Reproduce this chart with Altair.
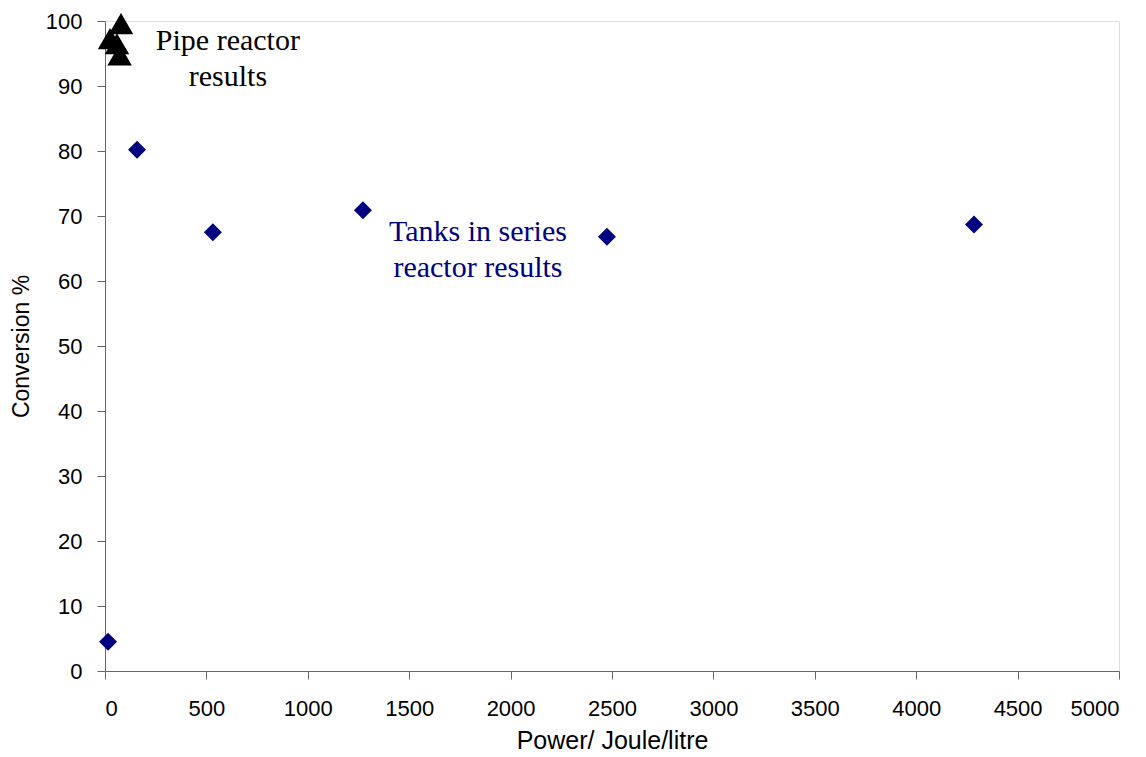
import altair as alt
import pandas as pd

# Tanks-in-series reactor results
tank_power = [15, 158, 532, 1272, 2475, 4285]
tank_conv = [4.5, 80.2, 67.5, 70.9, 66.8, 68.7]

# Pipe reactor results
pipe_power = [79, 25, 59, 72]
pipe_conv = [99.6, 97.3, 96.5, 94.8]

tanks = pd.DataFrame({"power": tank_power, "conv": tank_conv})
pipe = pd.DataFrame({"power": pipe_power, "conv": pipe_conv})
labels = pd.DataFrame({
    "power": [606, 1839],
    "conv": [96.9, 67.5],
    "text": [["Pipe reactor", "results"], ["Tanks in series", "reactor results"]],
    "color": ["#000000", "#000080"],
})

x_scale = alt.Scale(domain=[0, 5000], nice=False)
y_scale = alt.Scale(domain=[0, 100], nice=False)

x_axis = alt.Axis(
    title="Power/ Joule/litre", values=list(range(0, 5001, 500)), format="d",
    grid=False, labelFont="Liberation Sans", labelFontSize=22,
    labelColor="#000000", titleFont="Liberation Sans", titleFontSize=25,
    titleFontWeight="normal", titleColor="#000000", titlePadding=9,
    labelPadding=19, domainColor="#666666", tickColor="#666666", tickSize=8,
)
y_axis = alt.Axis(
    title="Conversion %", values=list(range(0, 101, 10)), format="d",
    grid=False, labelFont="Liberation Sans", labelFontSize=22,
    labelColor="#000000", titleFont="Liberation Sans", titleFontSize=23,
    titleFontWeight="normal", titleColor="#000000", titlePadding=12,
    labelPadding=15, domainColor="#666666", tickColor="#666666", tickSize=8,
)

tank_pts = alt.Chart(tanks).mark_point(
    shape="diamond", filled=True, size=324, color="#000080", opacity=1
).encode(
    x=alt.X("power:Q", scale=x_scale, axis=x_axis),
    y=alt.Y("conv:Q", scale=y_scale, axis=y_axis),
)

pipe_pts = alt.Chart(pipe).mark_point(
    shape="triangle-up", filled=True, size=600, color="#000000", opacity=1
).encode(
    x=alt.X("power:Q", scale=x_scale),
    y=alt.Y("conv:Q", scale=y_scale),
)

text = alt.Chart(labels).mark_text(
    font="Liberation Serif", fontSize=30, align="center", baseline="middle",
    lineHeight=36,
).encode(
    x=alt.X("power:Q", scale=x_scale),
    y=alt.Y("conv:Q", scale=y_scale),
    text="text",
    color=alt.Color("color:N", scale=None),
)

chart = alt.layer(text, tank_pts, pipe_pts).properties(
    width=1014, height=650,
    autosize=alt.AutoSizeParams(type="none"),
    padding={"left": 105, "top": 21, "right": 27, "bottom": 86},
).configure_view(
    stroke="#999999", strokeWidth=1
).configure(background="#ffffff")

chart.save("out.html", embed_options={"renderer": "svg", "actions": False})
